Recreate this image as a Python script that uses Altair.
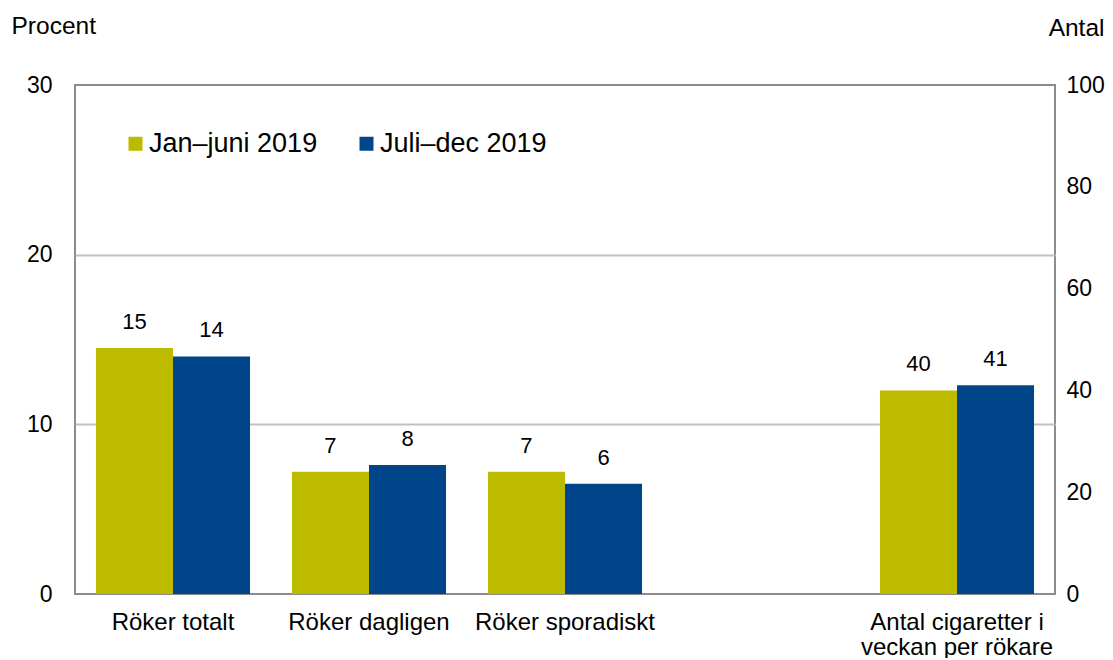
import altair as alt
import pandas as pd

# ---- data ----
categories = ["Röker totalt", "Röker dagligen", "Röker sporadiskt",
              "Antal cigaretter i veckan per rökare"]
x_domain = ["Röker totalt", "Röker dagligen", "Röker sporadiskt", " ",
            "Antal cigaretter i veckan per rökare"]
periods = ["Jan–juni 2019", "Juli–dec 2019"]
jan_values = [14.5, 7.2, 7.2, 40]
jul_values = [14.0, 7.6, 6.5, 41]
jan_labels = ["15", "7", "7", "40"]
jul_labels = ["14", "8", "6", "41"]
units = ["Procent", "Procent", "Procent", "Antal"]
left_ticks = [0, 10, 20, 30]
right_ticks = [0, 20, 40, 60, 80, 100]
colors = ["#BDBB00", "#00458A"]

rows = []
for i, c in enumerate(categories):
    rows.append(dict(kategori=c, period=periods[0], varde=jan_values[i],
                     etikett=jan_labels[i], enhet=units[i]))
    rows.append(dict(kategori=c, period=periods[1], varde=jul_values[i],
                     etikett=jul_labels[i], enhet=units[i]))
df = pd.DataFrame(rows)
pct = df[df.enhet == "Procent"]
cnt = df[df.enhet == "Antal"]

FONT = "Liberation Sans"

x_enc = alt.X(
    "kategori:N",
    sort=x_domain,
    scale=alt.Scale(domain=x_domain, paddingInner=0.214, paddingOuter=0.107),
    axis=alt.Axis(
        title=None, labelAngle=0, ticks=False, domain=False, labelFontSize=24,
        labelPadding=16, labelBaseline="top", labelLineHeight=25, labelLimit=400,
        labelExpr="datum.value == 'Antal cigaretter i veckan per rökare' ? "
                  "['Antal cigaretter i', 'veckan per rökare'] : datum.label",
    ),
)
xoff = alt.XOffset("period:N", scale=alt.Scale(domain=periods, paddingInner=0, paddingOuter=0))
color = alt.Color(
    "period:N",
    scale=alt.Scale(domain=periods, range=colors),
    legend=alt.Legend(
        title=None, orient="none", legendX=47, legendY=45, direction="horizontal",
        symbolType="square", symbolSize=196, symbolStrokeWidth=0,
        labelFontSize=27, labelOffset=0, columnPadding=35, padding=0,
        labelLimit=400, labelFont=FONT, labelColor="black",
    ),
)

left_axis = alt.Axis(
    title="Procent", values=left_ticks, ticks=False, domain=False, grid=True,
    gridColor="#c0c0c0", gridWidth=2,
    gridOpacity={"condition": {"test": "datum.value == 0 || datum.value == 30", "value": 0},
                 "value": 1},
    labelFontSize=23, labelPadding=23,
    titleAngle=0, titleAlign="left", titleBaseline="alphabetic",
    titleX=-64, titleY=-52, titleFontSize=24.5, titleFontWeight="normal",
)
right_axis = alt.Axis(
    orient="right", title="Antal", values=right_ticks, ticks=False, domain=False,
    grid=False, labelFontSize=23, labelPadding=11,
    titleAngle=0, titleAlign="right", titleBaseline="alphabetic",
    titleX=49, titleY=-50, titleFontSize=24.5, titleFontWeight="normal",
)

y_left = alt.Y("varde:Q", scale=alt.Scale(domain=[0, 30], nice=False), axis=left_axis)
y_right = alt.Y("varde:Q", scale=alt.Scale(domain=[0, 100], nice=False), axis=right_axis)

bars_left = alt.Chart(pct).mark_bar().encode(x=x_enc, xOffset=xoff, y=y_left, color=color)
text_left = alt.Chart(pct).mark_text(
    baseline="alphabetic", dy=-19, fontSize=22, font=FONT, color="black"
).encode(x=x_enc, xOffset=xoff, y=y_left, text="etikett:N")

bars_right = alt.Chart(cnt).mark_bar().encode(x=x_enc, xOffset=xoff, y=y_right, color=color)
text_right = alt.Chart(cnt).mark_text(
    baseline="alphabetic", dy=-19, fontSize=22, font=FONT, color="black"
).encode(x=x_enc, xOffset=xoff, y=y_right, text="etikett:N")

left = alt.layer(bars_left, text_left)
right = alt.layer(bars_right, text_right)

chart = (
    alt.layer(left, right)
    .resolve_scale(y="independent")
    .properties(
        width=980, height=509,
        autosize=alt.AutoSizeParams(type="none"),
        padding={"left": 67, "top": 77, "right": 50, "bottom": 64},
        background="white",
    )
    .configure_view(stroke="#8c8c8c", strokeWidth=2)
    .configure_axis(labelFont=FONT, titleFont=FONT, labelColor="black", titleColor="black")
)

chart.save("out.html", embed_options={"renderer": "svg", "actions": False})
